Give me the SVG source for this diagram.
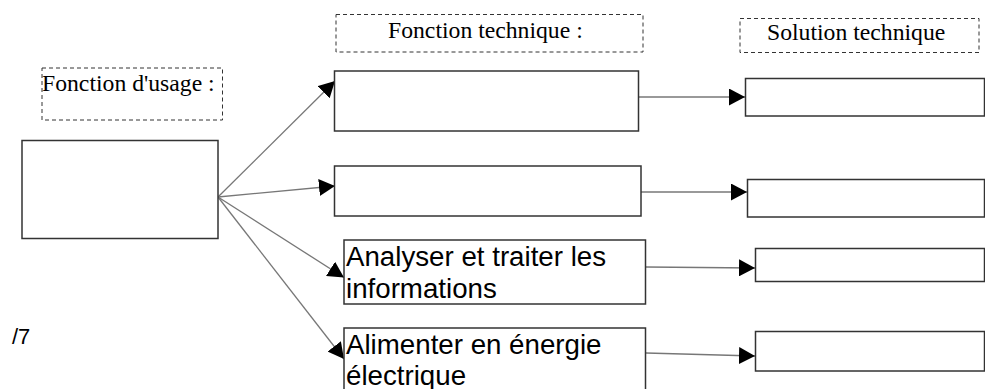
<svg xmlns="http://www.w3.org/2000/svg" width="985" height="389" viewBox="0 0 985 389">
<defs>
<marker id="ah" viewBox="0 0 16 17" refX="16" refY="8.5" markerWidth="16" markerHeight="17" markerUnits="userSpaceOnUse" orient="auto"><path d="M0,0 L16,8.5 L0,17 z" fill="#000"/></marker>
<style>
.box{fill:#fff;stroke:#333;stroke-width:1.5}
.lbl{fill:none;stroke:#333;stroke-width:1;stroke-dasharray:4 3}
.serif{font-family:"Liberation Serif","Times New Roman",serif;font-size:23.7px;fill:#000}
.sans{font-family:"Liberation Sans",Arial,sans-serif;font-size:27.7px;fill:#000}
.con{stroke:#777;stroke-width:1.3;fill:none;marker-end:url(#ah)}
</style>
</defs>
<rect width="985" height="389" fill="#fff"/>
<g id="connectors">
<line class="con" x1="218" y1="197" x2="335" y2="81"/>
<line class="con" x1="218" y1="197" x2="335" y2="186"/>
<line class="con" x1="218" y1="197" x2="344" y2="277.5"/>
<line class="con" x1="218" y1="197" x2="344" y2="359"/>
<line class="con" x1="638" y1="97" x2="745" y2="97"/>
<line class="con" x1="641" y1="192" x2="747" y2="192"/>
<line class="con" x1="646" y1="267" x2="755" y2="268"/>
<line class="con" x1="646" y1="353" x2="755" y2="356"/>
</g>
<g id="label-usage"><rect class="lbl" x="42" y="68" width="180.5" height="52"/><text class="serif" x="42" y="90.5">Fonction d'usage :</text></g>
<g id="label-ft"><rect class="lbl" x="336" y="14.5" width="307" height="37.5"/><text class="serif" x="388" y="37.5">Fonction technique :</text></g>
<g id="label-st"><rect class="lbl" x="740" y="18.5" width="239" height="34"/><text class="serif" x="767" y="40">Solution technique</text></g>
<g id="usage"><rect class="box" x="22" y="140.5" width="196" height="98"/></g>
<g id="ft1"><rect class="box" x="334.5" y="71" width="304" height="60"/></g>
<g id="ft2"><rect class="box" x="334.5" y="166" width="306.5" height="50"/></g>
<g id="ft3"><rect class="box" x="344" y="240" width="301.5" height="64"/><text class="sans" x="346" y="266">Analyser et traiter les</text><text class="sans" x="346" y="298">informations</text></g>
<g id="ft4"><rect class="box" x="344" y="328" width="301.5" height="70"/><text class="sans" x="346" y="354">Alimenter en énergie</text><text class="sans" x="346" y="385">électrique</text></g>
<g id="st1"><rect class="box" x="745.5" y="78.5" width="239" height="37.5"/></g>
<g id="st2"><rect class="box" x="747.5" y="179.5" width="237" height="37.5"/></g>
<g id="st3"><rect class="box" x="755.5" y="248.5" width="229" height="33"/></g>
<g id="st4"><rect class="box" x="755.5" y="331.5" width="229" height="39.5"/></g>
<g id="page"><text x="12" y="344" style="font-family:'Liberation Sans',Arial,sans-serif;font-size:22px;fill:#000">/7</text></g>
</svg>
